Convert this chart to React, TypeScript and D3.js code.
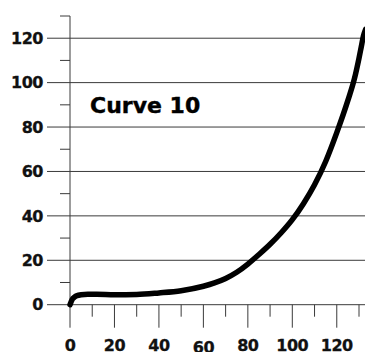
import React from "react";
import * as d3 from "d3";

const curveX = [0, 1, 2, 3, 5, 8, 12, 20, 30, 40, 50, 60, 65, 70, 75, 80, 85, 90, 95, 100, 105, 110, 115, 120, 125, 128, 130, 131, 132, 133];
const curveY = [0, 2.4, 3.4, 4.0, 4.5, 4.7, 4.7, 4.5, 4.6, 5.3, 6.3, 8.3, 9.8, 11.8, 14.6, 18.3, 22.6, 27.2, 32.4, 38.3, 45.5, 54, 64.5, 77.5, 92, 102, 111, 116, 121, 124];
const majorTicks = [0, 20, 40, 60, 80, 100, 120];
const minorTicks = [10, 30, 50, 70, 90, 110, 130];
const title = "Curve 10";

const W = 365;
const H = 352;
const FONT = "'DejaVu Sans', sans-serif";

export default function App() {
  const x = d3.scaleLinear().domain([0, 130]).range([70, 359]);
  const y = d3.scaleLinear().domain([0, 130]).range([304.7, 16]);
  const data = curveX.map((v, i) => [v, curveY[i]] as [number, number]);
  const line = d3
    .line<[number, number]>()
    .x((d) => x(d[0]))
    .y((d) => y(d[1]))
    .curve(d3.curveMonotoneX);
  const axisColor = "#3a3a3a";
  const y0 = y(0);
  const x0 = x(0);
  const labelProps = {
    fontFamily: FONT,
    fontWeight: "bold" as const,
    fontSize: 16,
    letterSpacing: -0.5,
    fill: "#111",
    stroke: "#111",
    strokeWidth: 0.3,
  };
  return (
    <svg
      width={W}
      height={H}
      style={{ position: "absolute", left: 0, top: 0, background: "#fff" }}
    >
      {majorTicks.map((t) => (
        <line key={"g" + t} x1={47} x2={W} y1={y(t)} y2={y(t)} stroke={axisColor} strokeWidth={1} />
      ))}
      {minorTicks.map((t) => (
        <line key={"ym" + t} x1={60} x2={x0} y1={y(t)} y2={y(t)} stroke={axisColor} strokeWidth={1} />
      ))}
      <line x1={x0} x2={x0} y1={y(130)} y2={y0} stroke={axisColor} strokeWidth={1} />
      {majorTicks.map((t) => (
        <line key={"xM" + t} x1={x(t)} x2={x(t)} y1={y0} y2={y0 + 23} stroke={axisColor} strokeWidth={1} />
      ))}
      {minorTicks.map((t) => (
        <line key={"xm" + t} x1={x(t)} x2={x(t)} y1={y0} y2={y0 + 12} stroke={axisColor} strokeWidth={1} />
      ))}
      {majorTicks.map((t) => (
        <text key={"yl" + t} x={43} y={y(t)} dy="0.36em" textAnchor="end" {...labelProps}>
          {t}
        </text>
      ))}
      {majorTicks.map((t) => (
        <text
          key={"xl" + t}
          x={x(t)}
          y={t === 60 ? 353 : 350.5}
          textAnchor="middle"
          {...labelProps}
        >
          {t}
        </text>
      ))}
      <text
        x={90}
        y={112.5}
        fontFamily={FONT}
        fontWeight="bold"
        fontSize={22}
        fill="#000"
        stroke="#000"
        strokeWidth={0.4}
      >
        {title}
      </text>
      <path
        d={line(data) || ""}
        fill="none"
        stroke="#000"
        strokeWidth={5.5}
        strokeLinecap="round"
        strokeLinejoin="round"
      />
    </svg>
  );
}
